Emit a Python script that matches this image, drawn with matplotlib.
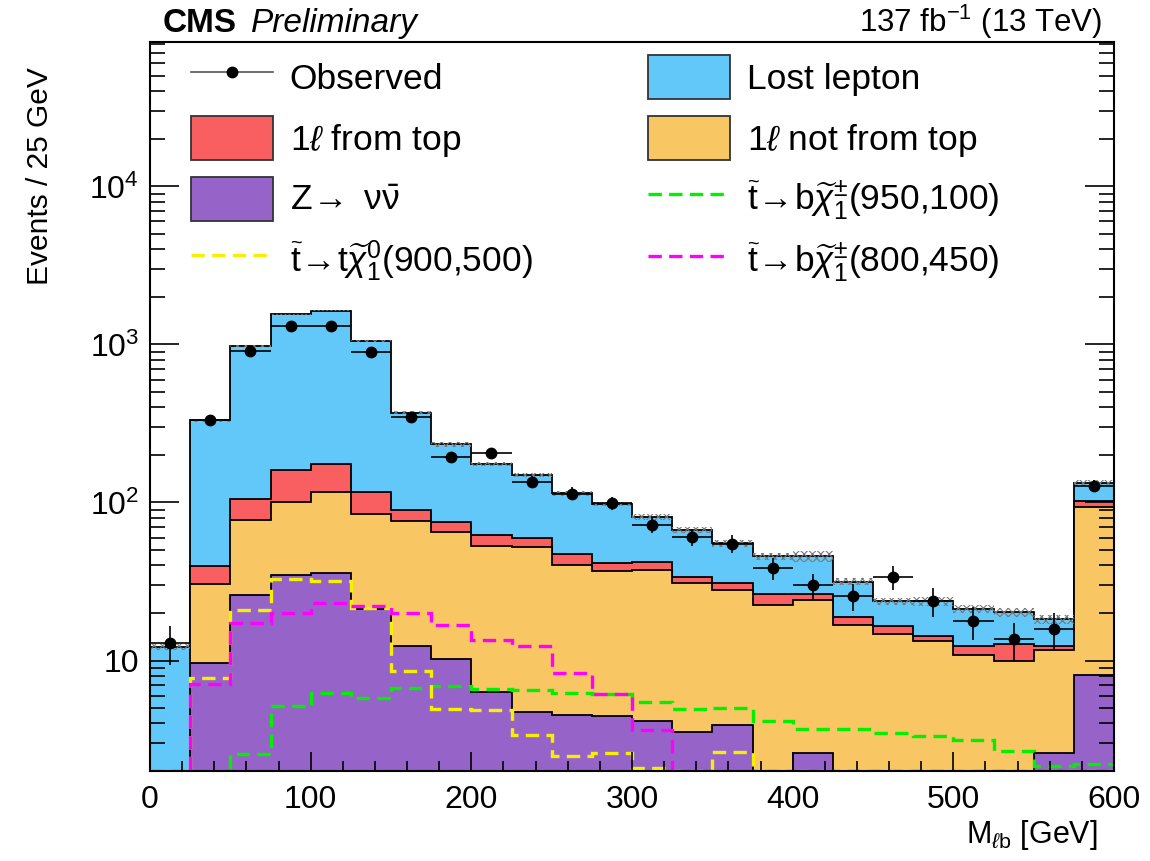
import numpy as np
import matplotlib
matplotlib.use("Agg")
import matplotlib.pyplot as plt
from matplotlib.lines import Line2D
from matplotlib.patches import Patch
from matplotlib.ticker import FixedLocator, MultipleLocator, FuncFormatter, LogLocator

plt.rcParams['font.family'] = ['Liberation Sans', 'DejaVu Sans']
plt.rcParams['mathtext.fontset'] = 'custom'
plt.rcParams['mathtext.rm'] = 'Liberation Sans'
plt.rcParams['mathtext.it'] = 'Liberation Sans:italic'
plt.rcParams['mathtext.bf'] = 'Liberation Sans:bold'
plt.rcParams['hatch.linewidth'] = 0.8

# M_lb binning, 25 GeV bins, last bin holds the overflow
edges = np.arange(0, 601, 25)

observed = [13, 335, 910, 1310, 1310, 900, 349, 194, 207, 135, 114, 99,
            72.5, 60.6, 55, 38.6, 30, 25.5, 33.8, 23.7, 17.7, 13.7, 15.9, 127]

# background components (stacked bottom to top)
z_nunu = [0, 9.7, 25.8, 35, 36, 21.2, 12.4, 10.2, 6.3, 4.7, 4.55, 4.43,
          4.13, 3.54, 3.93, 0, 2.6, 0, 0, 0, 0, 0, 2.6, 8.15]
one_l_not_top = [0, 20.7, 51.2, 66, 80, 63.8, 63.6, 54.8, 46.7, 47.3, 35.8, 32.4,
                 33.4, 27.2, 24.1, 22.6, 21.7, 16.9, 14.8, 13.2, 10.8, 10.0, 9.1, 85.9]
one_l_top = [0, 9.1, 28, 59, 58, 32, 13, 10, 9.5, 8, 6.6, 4.4,
             4.7, 3.2, 3.0, 3.8, 2.1, 2.0, 1.7, 1.1, 1.5, 2.8, 0.7, 8]
lost_lepton = [12.2, 291.5, 870, 1390, 1466, 933, 281, 158, 112.5, 90, 67.1, 56.8,
               38.8, 32.9, 24, 19.3, 19.6, 12.6, 7.2, 9.4, 8.9, 7.4, 5.8, 31]
# relative stat. uncertainty on the total prediction
unc_frac = [0.05, 0.02, 0.015, 0.012, 0.012, 0.015, 0.025, 0.03, 0.03, 0.03, 0.035, 0.035,
            0.04, 0.04, 0.045, 0.05, 0.08, 0.05, 0.05, 0.06, 0.06, 0.07, 0.07, 0.04]

# signal models
sig_tchi0_900_500 = [0, 7.77, 21, 32.6, 31.8, 21.5, 8.55, 4.9, 4.85, 3.4, 2.5, 2.6,
                     2.09, 1.9, 2.63, 0, 0, 0, 0, 0, 0, 0, 0, 0]
sig_bchipm_950_100 = [0, 0, 2.58, 5.14, 6.25, 5.8, 6.7, 6.87, 6.6, 6.55, 6.25, 6.1,
                      5.45, 4.9, 5.0, 4.13, 3.7, 3.7, 3.48, 3.35, 3.13, 2.67, 2.14, 2.2]
sig_bchipm_800_450 = [0, 7.15, 17.3, 20, 23, 22, 20, 16.9, 13.4, 12.3, 8.36, 6.1,
                      3.66, 0, 0, 0, 0, 0, 0, 0, 0, 0, 0, 0]

c_ll = '#62C8F9'
c_top = '#F95F60'
c_nottop = '#F8C663'
c_z = '#9664C8'
c_green = '#00F000'
c_yellow = '#F5F000'
c_magenta = '#FF00FF'

ymin, ymax = 2, 8.2e4

fig = plt.figure(figsize=(11.5, 8.61), dpi=100)
ax = fig.add_axes([150 / 1150, 1 - 771 / 861, (1114 - 150) / 1150, (771 - 42) / 861])
ax.set_yscale('log')

comps = [z_nunu, one_l_not_top, one_l_top, lost_lepton]
colors = [c_z, c_nottop, c_top, c_ll]
cum = np.cumsum(np.array(comps, dtype=float), axis=0)

# draw the stack from the top down so lower layers sit on top
for level, col in zip(cum[::-1], colors[::-1]):
    ax.stairs(level, edges, baseline=1e-2, fill=True, facecolor=col,
              edgecolor='black', linewidth=1.3)

total = cum[-1]
unc = total * np.array(unc_frac)
ax.stairs(total + unc, edges, baseline=total - unc, fill=True, facecolor='none',
          edgecolor='#777777', hatch='xxxx', linewidth=0)

sig_style = dict(linewidth=2.4, linestyle=(0, (4, 2.2)))
for vals, col in [(sig_bchipm_950_100, c_green),
                  (sig_tchi0_900_500, c_yellow),
                  (sig_bchipm_800_450, c_magenta)]:
    ax.stairs(np.clip(vals, ymin, None), edges, baseline=None, color=col, **sig_style)

centers = 0.5 * (edges[1:] + edges[:-1])
obs = np.array(observed)
ax.errorbar(centers, obs, xerr=12.5, yerr=np.sqrt(obs), fmt='o', color='black',
            ms=7.5, elinewidth=1.2, capsize=0, zorder=5)

ax.set_xlim(0, 600)
ax.set_ylim(ymin, ymax)

ax.xaxis.set_major_locator(MultipleLocator(100))
ax.xaxis.set_minor_locator(MultipleLocator(20))
ax.yaxis.set_major_locator(FixedLocator([10, 100, 1000, 10000]))
ax.yaxis.set_minor_locator(LogLocator(base=10, subs=np.arange(2, 10), numticks=20))


def ylab(v, pos):
    e = int(round(np.log10(v)))
    return '10' if e == 1 else r'$10^{%d}$' % e


ax.yaxis.set_major_formatter(FuncFormatter(ylab))
ax.yaxis.set_minor_formatter(FuncFormatter(lambda v, p: ''))

ax.tick_params(axis='both', which='both', direction='in', right=True, top=False,
               width=1.2, labelsize=23)
ax.tick_params(axis='y', which='major', length=21, pad=8)
ax.tick_params(axis='y', which='minor', length=11)
ax.tick_params(axis='x', which='major', length=14, pad=10)
ax.tick_params(axis='x', which='minor', length=7)
for sp in ax.spines.values():
    sp.set_linewidth(1.5)

fig.text(1098 / 1150, 1 - 835 / 861, r'M$_{\ell\mathrm{b}}$ [GeV]', fontsize=22,
         ha='right', va='center')
fig.text(40 / 1150, 1 - 67 / 861, 'Events / 25 GeV', fontsize=21.5, rotation=90,
         ha='center', va='top')
fig.text(163 / 1150, 1 - 32 / 861, 'CMS', fontsize=24, fontweight='bold',
         ha='left', va='baseline')
fig.text(251 / 1150, 1 - 32 / 861, 'Preliminary', fontsize=24, fontstyle='italic',
         ha='left', va='baseline')
fig.text(1102 / 1150, 1 - 32 / 861, r'137 fb$^{-1}$ (13 TeV)', fontsize=22.5,
         ha='right', va='baseline')

obs_h = Line2D([], [], color='#555555', lw=1.2, marker='o', ms=7.5,
               markerfacecolor='black', markeredgecolor='black')
sig_h = lambda c: Line2D([], [], color=c, **sig_style)
box_h = lambda c: Patch(facecolor=c, edgecolor='#333333', linewidth=1.3)

left_handles = [obs_h, box_h(c_top), box_h(c_z), sig_h(c_yellow)]
left_labels = ['Observed', r'1$\ell$ from top',
               r'Z$\!\rightarrow\ \mathrm{\nu}\bar{\mathrm{\nu}}$',
               r'$\widetilde{\mathrm{t}}\!\rightarrow\!\mathrm{t}\widetilde{\chi}^{0}_{1}$(900,500)']
right_handles = [box_h(c_ll), box_h(c_nottop), sig_h(c_green), sig_h(c_magenta)]
right_labels = ['Lost lepton', r'1$\ell$ not from top',
                r'$\widetilde{\mathrm{t}}\!\rightarrow\!\mathrm{b}\widetilde{\chi}^{\pm}_{1}$(950,100)',
                r'$\widetilde{\mathrm{t}}\!\rightarrow\!\mathrm{b}\widetilde{\chi}^{\pm}_{1}$(800,450)']

leg_kw = dict(loc='upper left', frameon=False, fontsize=25.5, borderpad=0, borderaxespad=0,
              handlelength=2.31, handleheight=1.53, handletextpad=0.48, labelspacing=0.48,
              bbox_transform=fig.transFigure)
leg1 = ax.legend(left_handles, left_labels, bbox_to_anchor=(191 / 1150, 1 - 55 / 861), **leg_kw)
ax.add_artist(leg1)
ax.legend(right_handles, right_labels, bbox_to_anchor=(648 / 1150, 1 - 55 / 861), **leg_kw)

fig.savefig('out.png', dpi=100)
